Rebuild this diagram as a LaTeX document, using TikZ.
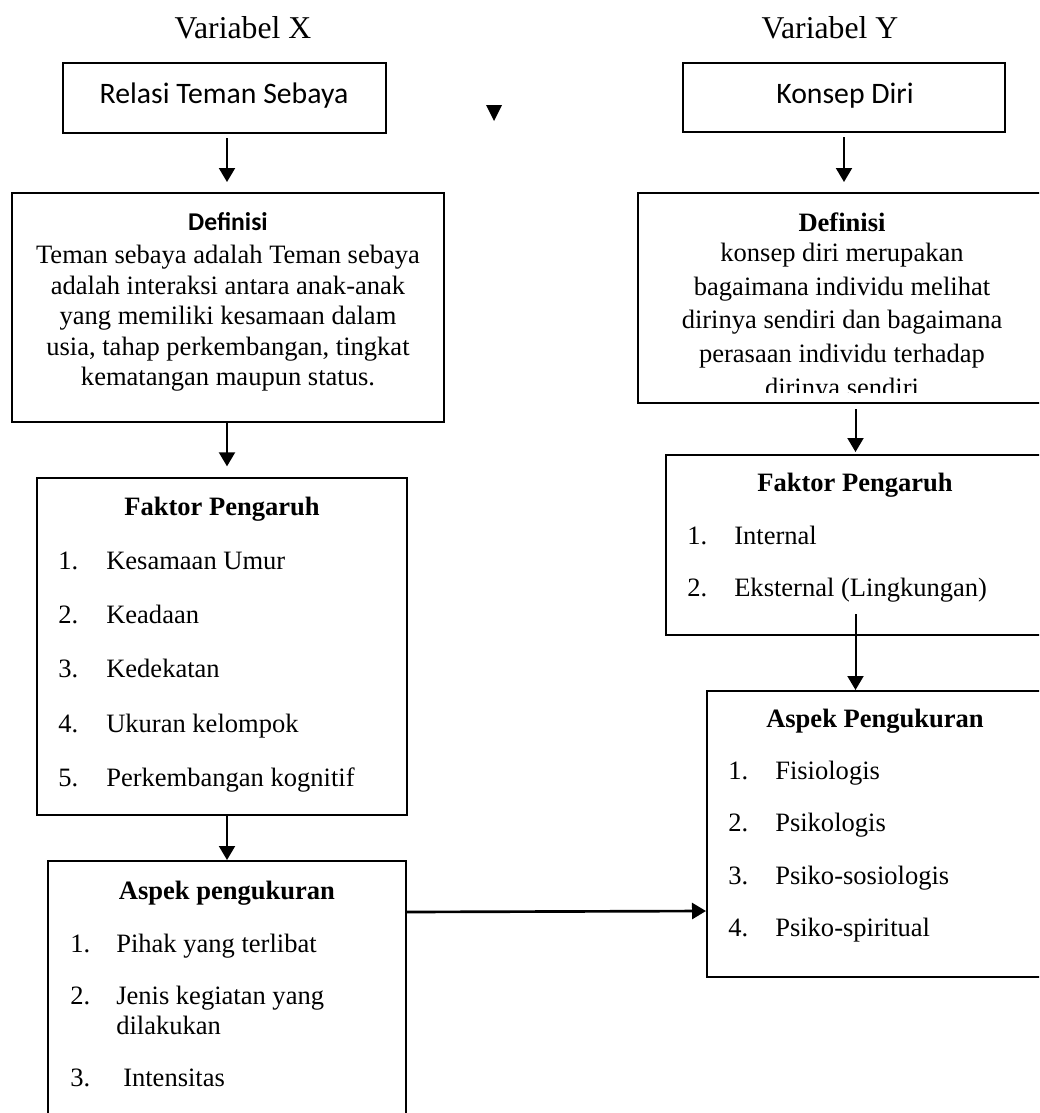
\documentclass[tikz,border=0pt]{standalone}
\usepackage{fontspec}
\setmainfont{Liberation Serif}
\newfontfamily\calibri{Carlito}
\usetikzlibrary{arrows.meta,fit,calc}
\tikzset{
box/.style={draw, line width=1.5pt, inner sep=0pt},
arr/.style={line width=1.5pt, -{Triangle[length=10.5pt,width=12pt]}},
title/.style={font=\fontsize{23.8}{28}\selectfont},
head/.style={font=\bfseries\fontsize{19.9}{23}\selectfont},
body/.style={align=center, inner sep=0pt},
item/.style={anchor=west, inner sep=0pt, font=\fontsize{19.9}{23}\selectfont,
  text height=0.66em, text depth=0pt},
}

\begin{document}
\begin{tikzpicture}[x=0.75pt,y=-0.75pt]
\useasboundingbox (0,0) rectangle (1039,1113);
\clip (0,0) rectangle (1039,1113);
% the titles
\node[title] (varX) at (243,28) {Variabel X};
\node[title] (varY) at (830,28) {Variabel Y};
% the boxes
\node[box, fit={(63,63) (386,133)}] (relX) {};
\node[box, fit={(683,63) (1005,132)}] (relY) {};
\node[box, fit={(12,193) (444,422)}] (defX) {};
\node[box, fit={(638,193) (1045,403)}] (defY) {};
\node[box, fit={(37,478) (407,815)}] (fakX) {};
\node[box, fit={(666,455) (1045,635)}] (fakY) {};
\node[box, fit={(48,861) (406,1125)}] (aspX) {};
\node[box, fit={(707,691) (1045,977)}] (aspY) {};
\coordinate (colX) at (227,0);
\node[font=\calibri\fontsize{22.3}{26}\selectfont] (relXtx) at (224,96) {Relasi Teman Sebaya};
\node[font=\calibri\fontsize{22.3}{26}\selectfont] (relYtx) at (845,96) {Konsep Diri};
% definisi
\node[font=\calibri\bfseries\fontsize{19.2}{22}\selectfont] (defXhd) at (228,222) {Definisi};
\node[body, font=\fontsize{19.9}{22.9}\selectfont] (defXtx) at (228,318.5)
  {Teman sebaya adalah Teman sebaya\\adalah interaksi antara anak-anak\\yang memiliki kesamaan dalam\\usia, tahap perkembangan, tingkat\\kematangan maupun status.};
\node[head] (defYhd) at (842,222) {Definisi};
\begin{scope}
\clip (638,193) rectangle (1039,392);
\node[body, font=\fontsize{19.9}{25.2}\selectfont] (defYtx) at (842,322.5)
  {konsep diri merupakan\\bagaimana individu melihat\\dirinya sendiri dan bagaimana\\perasaan individu terhadap\\dirinya sendiri};
\end{scope}
% faktor pengaruh
\node[head] (fakXhd) at (222,509) {Faktor Pengaruh};
\foreach \t [count=\i] in {Kesamaan Umur, Keadaan, Kedekatan, Ukuran kelompok, Perkembangan kognitif}
{
  \node[item] (fakXn\i) at (58,510.75+54.25*\i) {\i.};
  \node[item] (fakXi\i) at (106,510.75+54.25*\i) {\t};
}
\node[head] (fakYhd) at (855,485) {Faktor Pengaruh};
\foreach \t [count=\i] in {Internal, Eksternal (Lingkungan)}
{
  \node[item] (fakYn\i) at (687,488+52*\i) {\i.};
  \node[item] (fakYi\i) at (734,488+52*\i) {\t};
}
% aspek pengukuran
\node[head] (aspXhd) at (227,893) {Aspek pengukuran};
\node[item] (aspXn1) at (70,948) {1.};
\node[item] (aspXi1) at (116,948) {Pihak yang terlibat};
\node[item] (aspXn2) at (70,1000) {2.};
\node[item] (aspXi2) at (116,1000) {Jenis kegiatan yang};
\node[item] (aspXi2b) at (116,1030) {dilakukan};
\node[item] (aspXn3) at (70,1082) {3.};
\node[item] (aspXi3) at (123,1082) {Intensitas};
\node[head] (aspYhd) at (875,721) {Aspek Pengukuran};
\foreach \t [count=\i] in {Fisiologis, Psikologis, Psiko-sosiologis, Psiko-spiritual}
{
  \node[item] (aspYn\i) at (728,722.7+52.3*\i) {\i.};
  \node[item] (aspYi\i) at (775,722.7+52.3*\i) {\t};
}
% the arrows
\draw[arr, shorten <=3pt, shorten >=7.5pt] (relX.south -| colX) -- (defX.north -| colX);
\draw[arr, shorten >=8pt] (defX.south -| colX) -- (fakX.north -| colX);
\draw[arr] (fakX.south -| colX) -- (aspX.north -| colX);
\draw[arr, shorten <=3pt, shorten >=7.5pt] (relY.south) -- (relY.south |- defY.north);
\draw[arr, shorten <=4pt, shorten >=1.5pt] (defY.south -| fakY.north) -- (fakY.north);
\draw[arr] ($(fakY.south)+(0,-22)$) -- (aspY.north -| fakY.south);
\draw[arr, line width=2pt] ($(aspX.north east)+(0,52)$) -- ($(aspY.north west)+(0,221)$);
% stray tip
\fill (486,105) -- (502,105) -- (494,121) -- cycle;
\end{tikzpicture}
\end{document}
